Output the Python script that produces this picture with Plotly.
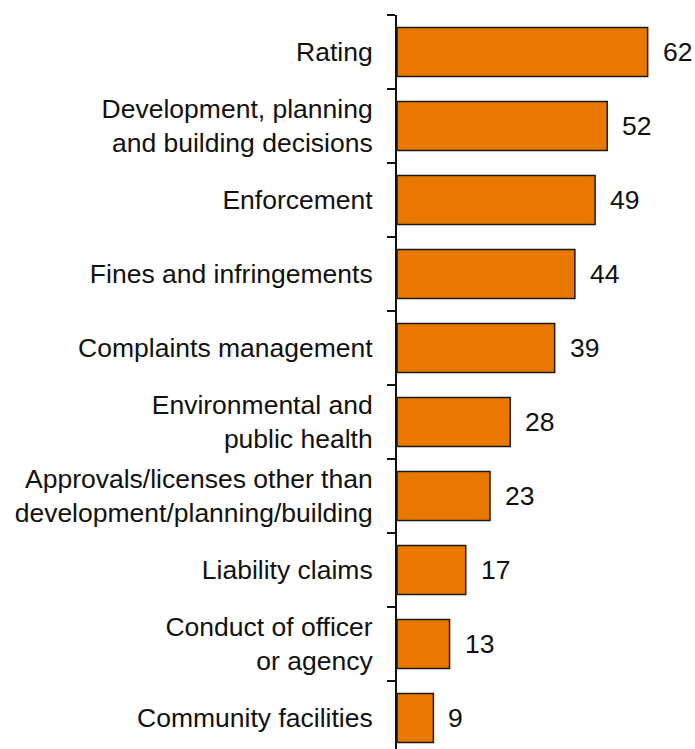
import plotly.graph_objects as go

# Categories listed bottom to top
categories = [
    "Community facilities",
    "Conduct of officer<br>or agency",
    "Liability claims",
    "Approvals/licenses other than<br>development/planning/building",
    "Environmental and<br>public health",
    "Complaints management",
    "Fines and infringements",
    "Enforcement",
    "Development, planning<br>and building decisions",
    "Rating",
]
values = [9, 13, 17, 23, 28, 39, 44, 49, 52, 62]

BAR_COLOR = "#E87800"
FONT = "Liberation Sans, Arial, sans-serif"

fig = go.Figure(
    go.Bar(
        x=values,
        y=categories,
        orientation="h",
        marker=dict(color=BAR_COLOR, line=dict(color="#1a1a1a", width=1.5)),
        width=0.66,
        hoverinfo="skip",
    )
)

# Value labels to the right of each bar
for cat, v in zip(categories, values):
    fig.add_annotation(
        x=v, y=cat, text=str(v), showarrow=False,
        xanchor="left", yanchor="middle", xshift=13,
        font=dict(family=FONT, size=26.5, color="#111111"),
    )

fig.update_layout(
    width=695, height=749,
    margin=dict(l=397, r=14.5, t=15, b=0),
    paper_bgcolor="white", plot_bgcolor="white",
    showlegend=False,
    font=dict(family=FONT, size=26.5, color="#111111"),
    xaxis=dict(range=[0, 70], visible=False, fixedrange=True),
    yaxis=dict(
        type="category",
        range=[-0.419, 9.5],
        tickson="boundaries",
        ticks="outside", ticklen=8, tickwidth=2, tickcolor="#111111",
        showline=True, linecolor="#111111", linewidth=2,
        showgrid=False, zeroline=False,
        ticklabelstandoff=17,
        tickfont=dict(family=FONT, size=26.5, color="#111111"),
        fixedrange=True,
    ),
)

fig.write_html("out.html")
